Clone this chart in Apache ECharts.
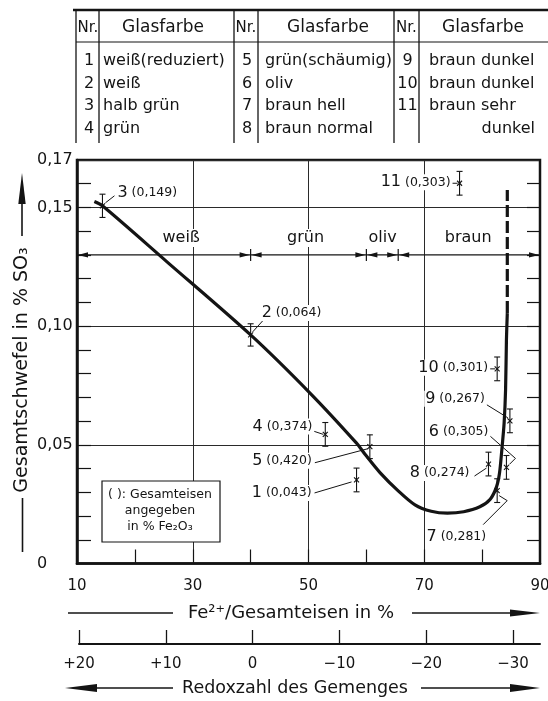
<!DOCTYPE html>
<html><head><meta charset="utf-8">
<script src="https://cdn.jsdelivr.net/npm/echarts@6/dist/echarts.min.js"></script>
<style>html,body{margin:0;padding:0;background:#fff}#c{width:548px;height:701px}</style>
</head><body><div id="c"></div>
<script>
const FONT = 'DejaVu Sans';
const INK = '#141414';

// ---------- table ----------
const tableHeadNr = 'Nr.';
const tableHeadColor = 'Glasfarbe';
const tableNr = [['1','2','3','4'],['5','6','7','8'],['9','10','11','']];
const tableColor = [
  ['weiß(reduziert)','weiß','halb grün','grün'],
  ['grün(schäumig)','oliv','braun hell','braun normal'],
  ['braun dunkel','braun dunkel','braun sehr','dunkel']
];

// ---------- axes ----------
const xTickLabels = [10,30,50,70,90];
const xMinorTicks = [20,30,40,50,60,70,80];
const yTickLabels = [0,0.05,0.10,0.15,0.17];
const yMinorTicks = [0.01,0.02,0.03,0.04,0.05,0.06,0.07,0.08,0.09,0.10,0.11,0.12,0.13,0.14,0.15,0.16];
const redoxTicks = [20,10,0,-10,-20,-30];

// ---------- curve ----------
const curveSolid = [
  [13.0,0.1525],[14.4,0.1507],[25.5,0.1272],[40.0,0.0963],
  [50.3,0.0717],[58.3,0.0507],[59.8,0.0459],[62.35,0.0383],[65.5,0.0306],[68.4,0.0247],
  [71.2,0.0220],[74.0,0.0212],[76.8,0.0218],[79.6,0.0239],[81.4,0.0271],[82.5,0.0324],
  [83.0,0.0380],[83.4,0.0478],[83.8,0.0591],[84.05,0.0731],[84.2,0.0942],[84.35,0.1055]
];
const curveDashed = [[84.35,0.1055],[84.35,0.1574]];

// ---------- measured points ----------
const pointNr  = ['1','2','3','4','5','6','7','8','9','10','11'];
const pointFe  = ['0,043','0,064','0,149','0,374','0,420','0,305','0,281','0,274','0,267','0,301','0,303'];
const pointX   = [58.3, 40.0, 14.4, 52.9, 60.6, 84.2, 82.6, 81.1, 84.8, 82.6, 76.1];
const pointY   = [0.0352,0.0963,0.1507,0.0544,0.0492,0.0405,0.0307,0.0419,0.0601,0.0820,0.1602];
const pointErr = [0.005,0.0047,0.0049,0.005,0.005,0.005,0.005,0.005,0.005,0.005,0.005];

// ---------- colour zones ----------
const zoneNames  = ['weiß','grün','oliv','braun'];
const zoneBounds = [10,40,60,65.5,90];
const zoneLabelX = [28,49.5,62.8,77.6];
const zoneY = 0.13;

// label layout (pixel offsets from the point; styling only)
const labelLayout = [
  {dx:-44, dy:13,  align:'right', leader:[[-42,13],[-5,2]]},
  {dx:10,  dy:-22, align:'left',  leader:[[2,-3],[12,-14]]},
  {dx:14,  dy:-13, align:'left',  leader:[[3,-3],[12,-10]]},
  {dx:-12, dy:-8,  align:'right', leader:[[-11,-3],[-2,0]]},
  {dx:-57, dy:14,  align:'right', leader:[[-55,16],[-2,2]]},
  {dx:-17, dy:-36, align:'right', leader:[[-16,-31],[9,-9],[3,-3]]},
  {dx:-10, dy:46,  align:'right', leader:[[-14,34],[10,10],[2,5]]},
  {dx:-18, dy:9,   align:'right', leader:[[-14,12],[-2,4]]},
  {dx:-24, dy:-22, align:'right', leader:[[-23,-16],[-2,-3]]},
  {dx:-8,  dy:-1,  align:'right', leader:[[-7,0],[-2,0]]},
  {dx:-8,  dy:-1,  align:'right', leader:[[-7,0],[-2,0]]}
];

// ---------- helpers for graphic ----------
function gText(x, y, text, size, align, rot) {
  const o = {type:'text', x:x, y:y, style:{text:text, fontSize:size, fontFamily:FONT, fill:INK,
    align:align||'center', textAlign:align||'center', verticalAlign:'middle', textVerticalAlign:'middle'}};
  if (rot) o.rotation = rot;
  return o;
}
function gLine(x1,y1,x2,y2,w){ return {type:'line', shape:{x1:x1,y1:y1,x2:x2,y2:y2}, style:{stroke:INK, lineWidth:w||1.2}}; }
function gPoly(pts){ return {type:'polygon', shape:{points:pts}, style:{fill:INK}}; }

const graphics = [];
// table
const colLines = [76,99,234,258,394,419];
graphics.push(gLine(73,10,548,10,2.5));
graphics.push(gLine(76,42,548,42,1.2));
colLines.forEach(x => graphics.push(gLine(x,10,x,143,1.3)));
const nrCenters = [88, 246, 406.5];
const headColorCenters = [163, 328, 483];
const rowY = [61, 83.5, 106, 129];
const colorLeft = [103, 265, 429];
for (let c = 0; c < 3; c++) {
  graphics.push(gText(nrCenters[c], 28, tableHeadNr, 15));
  graphics.push(gText(headColorCenters[c], 28, tableHeadColor, 17));
  for (let r = 0; r < 4; r++) {
    if (tableNr[c][r]) graphics.push(gText(nrCenters[c]+1, rowY[r], tableNr[c][r], 16));
    if (c === 2 && r === 3) graphics.push(gText(535, rowY[r], tableColor[c][r], 16, 'right'));
    else graphics.push(gText(colorLeft[c], rowY[r], tableColor[c][r], 16, 'left'));
  }
}
// y axis title with arrow
graphics.push(gText(22, 370, 'Gesamtschwefel in % SO₃', 19, 'center', Math.PI/2));
graphics.push(gLine(22,236,22,198,1.6));
graphics.push(gPoly([[22,173],[18.3,204],[25.7,204]]));
graphics.push(gLine(22.5,498,22.5,552,1.6));
// x axis title
graphics.push(gText(291, 613, 'Fe²⁺/Gesamteisen in %', 18));
graphics.push(gLine(68,613,173,613,1.6));
graphics.push(gLine(412,613,515,613,1.6));
graphics.push(gPoly([[540,613],[510,609.5],[510,616.5]]));
// redox title
graphics.push(gText(295, 688, 'Redoxzahl des Gemenges', 17.5));
graphics.push(gLine(90,688,173,688,1.6));
graphics.push(gPoly([[65,688],[97,684],[97,692]]));
graphics.push(gLine(421,688,515,688,1.6));
graphics.push(gPoly([[540,688],[510,684],[510,692]]));
// note box
graphics.push({type:'rect', shape:{x:102, y:481, width:118, height:61}, style:{fill:'#fff', stroke:INK, lineWidth:1.2}, z:5});
graphics.push(Object.assign(gText(160, 495, '( ): Gesamteisen', 12.5), {z:6}));
graphics.push(Object.assign(gText(160, 511, 'angegeben', 12.5), {z:6}));
graphics.push(Object.assign(gText(160, 527, 'in % Fe₂O₃', 12.5), {z:6}));

// ---------- series data ----------
const pointData = pointX.map((x,i) => [x, pointY[i], pointErr[i], i]);
const zoneData = zoneNames.map((n,i) => [zoneBounds[i], zoneBounds[i+1], zoneLabelX[i], zoneY, i]);

const axisFont = {fontFamily:FONT, fontSize:15, color:INK};

const option = {
  backgroundColor:'#fff',
  animation:false,
  grid:[
    {left:77, right:8, top:160, bottom:137.5, show:true, borderColor:INK, borderWidth:2.5, backgroundColor:'transparent', outerBoundsMode:'none', containLabel:false},
    {left:79, right:8, top:643, height:1, outerBoundsMode:'none', containLabel:false}
  ],
  xAxis:[
    {gridIndex:0, type:'value', min:10, max:90, interval:20, position:'bottom',
     axisLine:{show:true, lineStyle:{color:INK, width:2.5}},
     axisTick:{show:false},
     splitLine:{show:true, lineStyle:{color:'#2a2a2a', width:1}},
     axisLabel:Object.assign({customValues:xTickLabels, margin:15}, axisFont)},
    {gridIndex:0, type:'value', min:10, max:90, position:'bottom',
     axisLine:{show:false}, axisLabel:{show:false}, splitLine:{show:false},
     axisTick:{show:true, inside:true, length:14, customValues:xMinorTicks, lineStyle:{color:INK, width:1.2}}},
    {gridIndex:1, type:'value', min:-33.1, max:20, inverse:true, position:'bottom',
     axisLine:{show:true, lineStyle:{color:INK, width:2}},
     axisTick:{show:true, inside:true, length:14, customValues:redoxTicks, lineStyle:{color:INK, width:1.3}},
     splitLine:{show:false},
     axisLabel:Object.assign({customValues:redoxTicks, margin:13,
       formatter:v => v > 0 ? '+' + v : (v < 0 ? '−' + Math.abs(v) : '0')}, axisFont)}
  ],
  yAxis:[
    {gridIndex:0, type:'value', min:0, max:0.17, interval:0.05, position:'left',
     axisLine:{show:true, lineStyle:{color:INK, width:2.5}},
     axisTick:{show:false},
     splitLine:{show:true, lineStyle:{color:'#2a2a2a', width:1}},
     axisLabel:Object.assign({customValues:yTickLabels, align:'left', margin:40,
       formatter:v => v === 0 ? '0' : v.toFixed(2).replace('.', ',')}, axisFont, {fontSize:16})},
    {gridIndex:0, type:'value', min:0, max:0.17, position:'left',
     axisLine:{show:false}, axisLabel:{show:false}, splitLine:{show:false},
     axisTick:{show:true, inside:true, length:14, customValues:yMinorTicks, lineStyle:{color:INK, width:1.2}}},
    {gridIndex:0, type:'value', min:0, max:0.17, position:'right',
     axisLine:{show:true, lineStyle:{color:INK, width:2}}, axisLabel:{show:false}, splitLine:{show:false},
     axisTick:{show:true, inside:true, length:13, customValues:yMinorTicks, lineStyle:{color:INK, width:1.2}}},
    {gridIndex:1, type:'value', show:false, min:0, max:1}
  ],
  series:[
    {type:'line', xAxisIndex:0, yAxisIndex:0, data:curveSolid, smooth:0.3, showSymbol:false, symbol:'none',
     lineStyle:{color:INK, width:3.2}, z:3},
    {type:'line', xAxisIndex:0, yAxisIndex:0, data:curveDashed, showSymbol:false, symbol:'none',
     lineStyle:{color:INK, width:3.2, type:[12,4]}, z:3},
    {type:'custom', coordinateSystem:'cartesian2d', xAxisIndex:0, yAxisIndex:0, data:zoneData, z:4,
     encode:{x:[0,1], y:3},
     renderItem:function(params, api){
       const a = api.coord([api.value(0), api.value(3)]);
       const b = api.coord([api.value(1), api.value(3)]);
       const c = api.coord([api.value(2), api.value(3)]);
       const idx = api.value(4);
       const y = a[1];
       const ch = [
         {type:'line', shape:{x1:a[0], y1:y, x2:b[0], y2:y}, style:{stroke:INK, lineWidth:1.2}},
         {type:'polygon', shape:{points:[[a[0]+1,y],[a[0]+11,y-2.6],[a[0]+11,y+2.6]]}, style:{fill:INK}},
         {type:'polygon', shape:{points:[[b[0]-1,y],[b[0]-11,y-2.6],[b[0]-11,y+2.6]]}, style:{fill:INK}},
         {type:'text', x:c[0], y:y-17, style:{text:zoneNames[idx], fontSize:16, fontFamily:FONT, fill:INK,
           align:'center', verticalAlign:'middle', backgroundColor:'#fff', padding:[1,2]}}
       ];
       if (idx > 0) ch.push({type:'line', shape:{x1:a[0], y1:y-6, x2:a[0], y2:y+6}, style:{stroke:INK, lineWidth:1.2}});
       return {type:'group', children:ch};
     }},
    {type:'custom', coordinateSystem:'cartesian2d', xAxisIndex:0, yAxisIndex:0, data:pointData, z:5,
     encode:{x:0, y:1},
     renderItem:function(params, api){
       const x = api.value(0), y = api.value(1), e = api.value(2);
       const p = api.coord([x, y]);
       const t = api.coord([x, y + e]);
       const b = api.coord([x, y - e]);
       const s = {stroke:INK, lineWidth:1.1};
       return {type:'group', children:[
         {type:'line', shape:{x1:p[0], y1:t[1], x2:p[0], y2:b[1]}, style:s},
         {type:'line', shape:{x1:p[0]-3, y1:t[1], x2:p[0]+3, y2:t[1]}, style:s},
         {type:'line', shape:{x1:p[0]-3, y1:b[1], x2:p[0]+3, y2:b[1]}, style:s},
         {type:'line', shape:{x1:p[0]-2.5, y1:p[1]-2.5, x2:p[0]+2.5, y2:p[1]+2.5}, style:s},
         {type:'line', shape:{x1:p[0]-2.5, y1:p[1]+2.5, x2:p[0]+2.5, y2:p[1]-2.5}, style:s}
       ]};
     }},
    {type:'custom', coordinateSystem:'cartesian2d', xAxisIndex:0, yAxisIndex:0, data:pointData, z:6,
     encode:{x:0, y:1},
     renderItem:function(params, api){
       const i = api.value(3);
       const p = api.coord([api.value(0), api.value(1)]);
       const L = labelLayout[i];
       return {type:'group', children:[
         {type:'polyline', shape:{points:L.leader.map(d => [p[0]+d[0], p[1]+d[1]])}, style:{stroke:INK, lineWidth:1, fill:null}},
         {type:'text', x:p[0]+L.dx, y:p[1]+L.dy, style:{
           text:'{n|' + pointNr[i] + '}{p| (' + pointFe[i] + ')}',
           rich:{n:{fontSize:16, fontFamily:FONT, fill:INK}, p:{fontSize:12.5, fontFamily:FONT, fill:INK}},
           align:L.align, verticalAlign:'middle', backgroundColor:'#fff', padding:[0,1]}}
       ]};
     }}
  ],
  graphic:graphics
};

const chart = echarts.init(document.getElementById('c'), null, {renderer:'canvas'});
chart.setOption(option);
</script>
</body></html>
